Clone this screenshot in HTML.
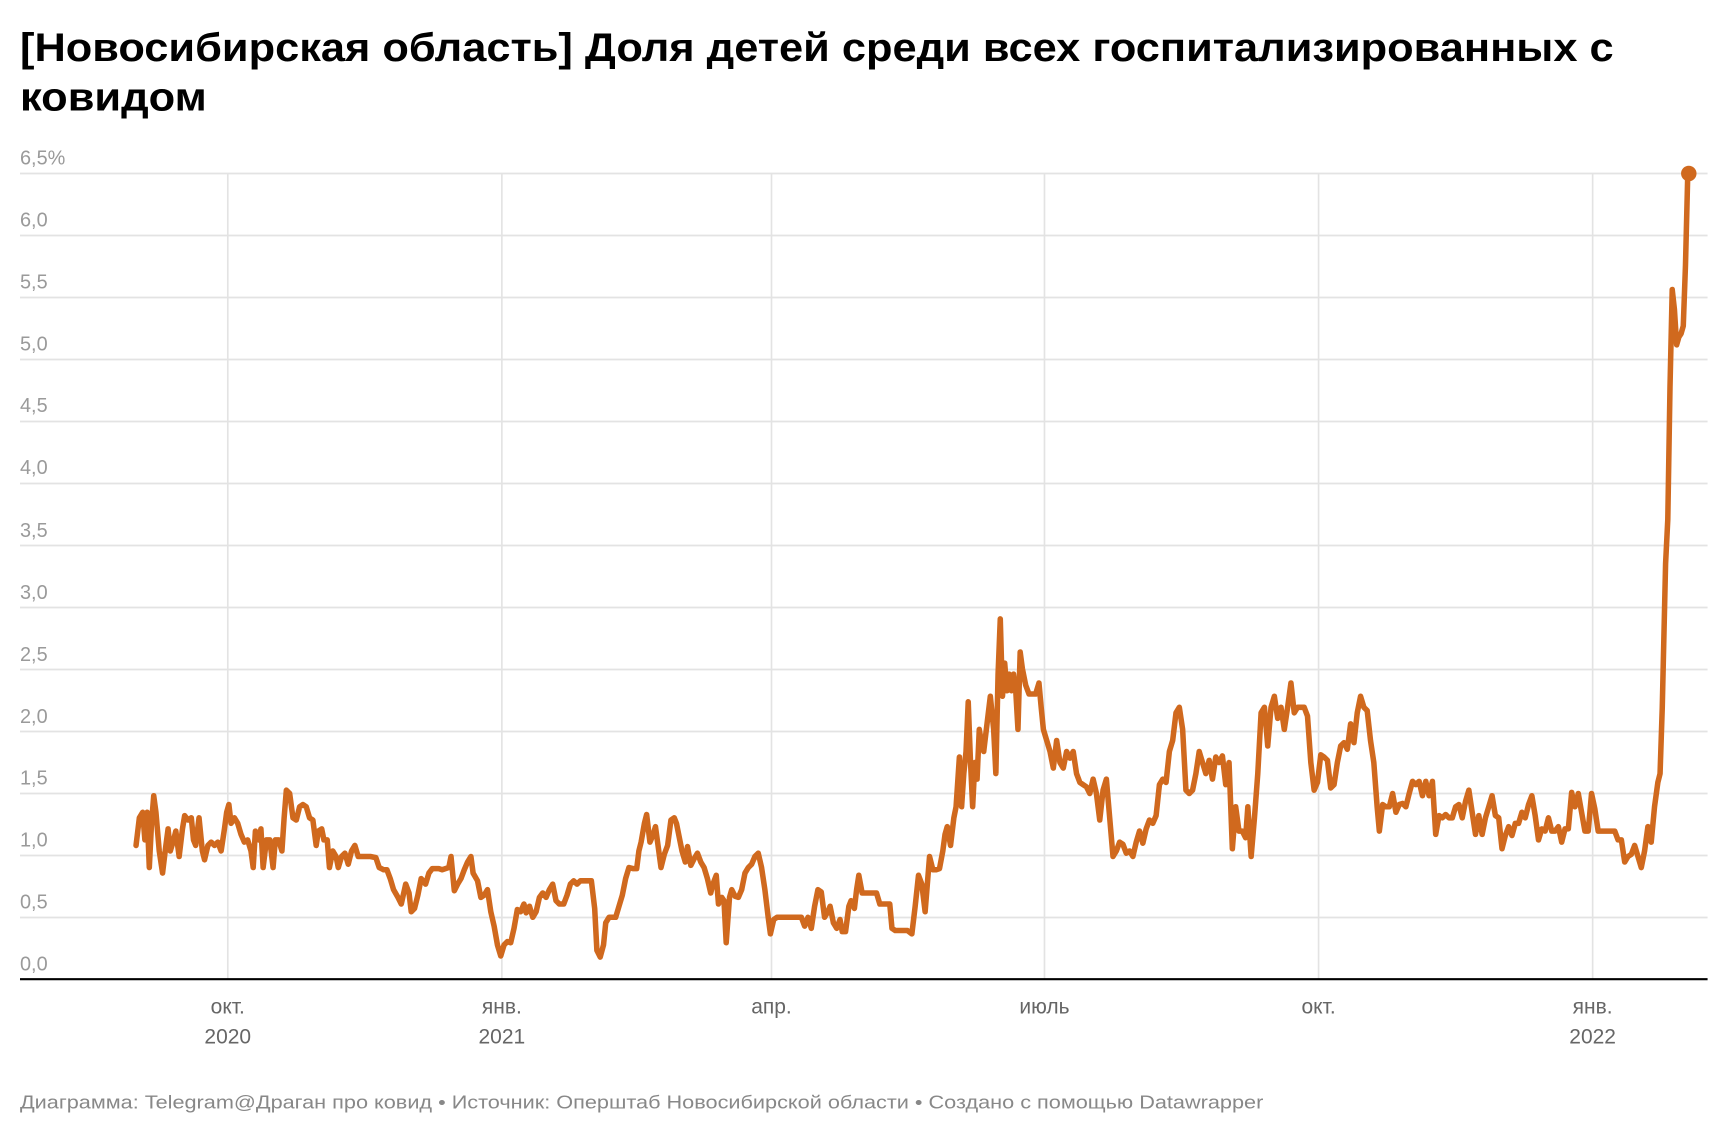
<!DOCTYPE html>
<html><head><meta charset="utf-8"><style>html,body{margin:0;padding:0;background:#fff}svg{display:block}</style></head><body>
<svg width="1732" height="1135" viewBox="0 0 1567 1027" xmlns="http://www.w3.org/2000/svg" font-family="Liberation Sans, sans-serif">
<rect width="1567" height="1027" fill="#fff"/>
<text x="18" y="55" font-size="36" font-weight="bold" fill="#000" textLength="1442" lengthAdjust="spacingAndGlyphs">[Новосибирская область] Доля детей среди всех госпитализированных с</text>
<text x="18" y="100" font-size="36" font-weight="bold" fill="#000" textLength="169" lengthAdjust="spacingAndGlyphs">ковидом</text>
<g stroke="#e3e3e3" stroke-width="1.5">
<line x1="18" x2="1545" y1="157" y2="157"/><line x1="18" x2="1545" y1="213.1" y2="213.1"/><line x1="18" x2="1545" y1="269.2" y2="269.2"/><line x1="18" x2="1545" y1="325.3" y2="325.3"/><line x1="18" x2="1545" y1="381.4" y2="381.4"/><line x1="18" x2="1545" y1="437.5" y2="437.5"/><line x1="18" x2="1545" y1="493.6" y2="493.6"/><line x1="18" x2="1545" y1="549.7" y2="549.7"/><line x1="18" x2="1545" y1="605.8" y2="605.8"/><line x1="18" x2="1545" y1="661.9" y2="661.9"/><line x1="18" x2="1545" y1="718" y2="718"/><line x1="18" x2="1545" y1="774.1" y2="774.1"/><line x1="18" x2="1545" y1="830.2" y2="830.2"/>
<line x1="206" x2="206" y1="157" y2="886"/><line x1="454" x2="454" y1="157" y2="886"/><line x1="698" x2="698" y1="157" y2="886"/><line x1="945" x2="945" y1="157" y2="886"/><line x1="1193" x2="1193" y1="157" y2="886"/><line x1="1441" x2="1441" y1="157" y2="886"/>
</g>
<g font-size="18" fill="#9a9a9a">
<text x="18" y="149">6,5%</text><text x="18" y="205">6,0</text><text x="18" y="261">5,5</text><text x="18" y="317">5,0</text><text x="18" y="373">4,5</text><text x="18" y="429">4,0</text><text x="18" y="486">3,5</text><text x="18" y="542">3,0</text><text x="18" y="598">2,5</text><text x="18" y="654">2,0</text><text x="18" y="710">1,5</text><text x="18" y="766">1,0</text><text x="18" y="822">0,5</text><text x="18" y="878">0,0</text>
</g>
<line x1="18" x2="1545" y1="886" y2="886" stroke="#000" stroke-width="2"/>
<g font-size="19" fill="#666" text-anchor="middle">
<text x="206" y="917">окт.</text><text x="206" y="944">2020</text>
<text x="454" y="917">янв.</text><text x="454" y="944">2021</text>
<text x="698" y="917">апр.</text>
<text x="945" y="917">июль</text>
<text x="1193" y="917">окт.</text>
<text x="1441" y="917">янв.</text><text x="1441" y="944">2022</text>
</g>
<polyline fill="none" stroke="#d0691e" stroke-width="5" stroke-linejoin="round" stroke-linecap="round" points="123,765 126,740 129,735 131,760 133,735 135,785 137,745 139,720 141,735 144,770 147,790 150,765 152,750 154,770 157,760 159,752 162,775 165,750 167,738 170,742 173,740 175,760 177,765 180,740 183,770 185,778 188,765 191,762 194,765 197,762 200,770 203,750 205,735 207,728 209,745 212,740 215,745 218,755 221,762 224,760 227,770 229,785 231,752 234,760 236,750 238,785 241,760 244,760 247,785 249,760 252,760 255,770 257,740 259,715 262,718 265,740 268,742 271,730 274,728 277,730 280,740 283,742 286,765 288,752 291,750 293,760 296,760 298,785 301,770 304,775 306,785 309,775 312,772 315,782 318,770 321,765 324,775 327,775 330,775 335,775 340,776 343,785 347,787 350,787 353,795 356,805 360,812 363,818 367,800 370,808 372,825 375,822 378,810 381,795 385,800 388,790 391,786 394,786 397,786 400,787 403,786 406,785 408,775 411,806 414,800 417,795 420,787 423,780 426,775 428,790 432,797 435,812 438,810 441,805 444,825 447,838 450,855 453,865 456,855 459,852 462,853 465,840 468,823 471,825 474,818 476,826 479,820 482,830 485,825 488,812 491,808 494,812 497,805 500,800 503,815 506,818 510,818 513,810 516,800 519,797 522,800 525,797 528,797 532,797 535,797 538,822 540,860 543,866 546,855 548,835 551,830 554,830 557,830 560,820 563,810 566,795 569,785 573,786 576,786 578,770 580,762 583,745 585,737 588,762 591,755 593,748 596,770 598,785 601,773 604,765 607,742 610,740 612,745 615,760 617,770 620,780 622,766 625,783 628,777 631,772 634,780 637,785 640,795 643,808 645,800 648,792 650,818 653,812 655,815 657,853 660,812 662,805 665,811 668,812 671,805 674,790 677,785 680,782 683,775 686,772 689,785 692,805 695,830 697,845 700,832 703,830 706,830 710,830 715,830 720,830 725,830 728,838 731,830 734,840 737,820 740,805 743,807 746,830 749,825 751,820 754,835 757,840 760,832 762,843 765,843 768,820 770,815 773,822 775,805 777,792 780,808 783,808 787,808 790,808 793,808 796,818 799,818 802,818 805,818 807,840 810,842 813,842 817,842 821,842 825,845 828,820 831,792 834,800 837,825 839,800 841,775 844,787 847,787 850,786 853,770 855,755 857,748 860,765 863,740 865,730 868,685 870,730 872,700 874,680 876,635 878,688 880,730 882,690 884,705 886,660 888,672 890,680 893,655 896,630 899,660 901,700 903,610 905,560 907,630 909,600 911,625 913,610 915,625 917,610 919,625 921,660 923,590 925,605 928,620 931,628 934,628 937,628 940,618 942,640 944,660 947,670 950,680 953,695 956,670 959,690 962,695 965,680 968,686 971,680 974,700 977,708 980,710 983,712 986,718 989,705 992,718 995,742 998,715 1001,705 1004,740 1007,775 1010,770 1013,762 1016,764 1019,772 1022,770 1025,775 1028,762 1031,752 1034,763 1037,750 1040,742 1043,745 1046,738 1049,710 1052,705 1055,708 1058,680 1061,670 1064,645 1067,640 1070,660 1073,715 1076,718 1079,715 1082,700 1085,680 1088,690 1091,700 1094,688 1097,705 1100,685 1103,690 1106,684 1109,710 1112,690 1115,768 1118,730 1121,752 1124,752 1127,758 1129,730 1132,775 1135,740 1138,700 1141,645 1144,640 1147,675 1150,640 1153,630 1156,650 1159,640 1162,660 1165,640 1168,618 1171,645 1174,640 1177,640 1180,640 1183,648 1186,690 1189,715 1192,708 1195,683 1198,685 1201,688 1204,713 1207,710 1210,690 1213,675 1216,672 1219,678 1222,655 1225,672 1228,645 1231,630 1234,640 1237,643 1240,670 1243,690 1246,730 1248,752 1251,728 1254,730 1257,730 1260,718 1263,735 1266,728 1269,727 1272,730 1275,718 1278,707 1281,710 1284,707 1287,720 1290,707 1293,720 1296,707 1299,755 1302,738 1305,740 1308,737 1311,740 1314,740 1317,730 1320,728 1323,740 1326,725 1329,715 1332,735 1335,755 1338,738 1341,755 1344,740 1347,730 1350,720 1353,738 1356,740 1359,768 1362,756 1365,748 1368,756 1371,745 1374,745 1377,735 1380,740 1383,728 1386,720 1389,738 1392,760 1395,750 1398,752 1401,740 1404,752 1407,752 1410,748 1413,762 1416,750 1419,750 1422,717 1425,730 1428,718 1431,735 1434,752 1437,752 1440,718 1443,732 1446,752 1449,752 1452,752 1455,752 1458,752 1461,752 1464,760 1467,760 1470,780 1473,775 1476,773 1479,765 1482,775 1485,785 1488,770 1491,748 1494,762 1497,730 1500,708 1502,700 1504,640 1507,510 1509,470 1511,350 1513,262 1515,280 1517,312 1519,305 1521,302 1523,295 1525,240 1527,160 1528,157"/>
<circle cx="1528" cy="157" r="7" fill="#d0691e"/>
<text x="18" y="1003" font-size="17" fill="#888" textLength="1125" lengthAdjust="spacingAndGlyphs">Диаграмма: Telegram@Драган про ковид • Источник: Оперштаб Новосибирской области • Создано с помощью Datawrapper</text>
</svg>
</body></html>
